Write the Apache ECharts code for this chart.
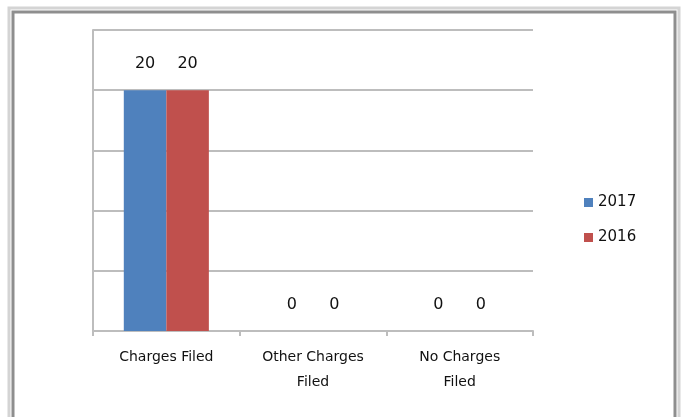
<!DOCTYPE html>
<html>
<head>
<meta charset="utf-8">
<script src="https://cdn.jsdelivr.net/npm/echarts@6/dist/echarts.min.js"></script>
<style>
  html, body { margin: 0; padding: 0; background: #fff; }
  #main { width: 683px; height: 417px; }
</style>
</head>
<body>
<div id="main"></div>
<script>
// chart data
var categories = ['Charges Filed', 'Other Charges\nFiled', 'No Charges\nFiled'];
var values2017 = [20, 0, 0];
var values2016 = [20, 0, 0];
var seriesNames = ['2017', '2016'];

var chart = echarts.init(document.getElementById('main'));

var labelStyle = {
  show: true,
  position: 'top',
  distance: 18,
  color: '#111',
  fontFamily: 'DejaVu Sans',
  fontSize: 16
};

var option = {
  backgroundColor: '#fff',
  animation: false,
  graphic: [
    {
      type: 'rect',
      shape: { x: 9, y: 8, width: 670, height: 430 },
      style: { fill: 'none', stroke: '#d4d4d4', lineWidth: 3 }
    },
    {
      type: 'rect',
      shape: { x: 13, y: 12, width: 662, height: 430 },
      style: { fill: 'none', stroke: '#8e8e8e', lineWidth: 3 }
    }
  ],
  grid: {
    left: 93,
    right: 150,
    top: 30,
    bottom: 86
  },
  legend: {
    orient: 'vertical',
    left: 579,
    top: 190,
    itemWidth: 9,
    itemHeight: 9,
    itemGap: 20,
    icon: 'rect',
    textStyle: { fontFamily: 'DejaVu Sans', fontSize: 15, color: '#111' },
    data: seriesNames
  },
  xAxis: {
    type: 'category',
    data: categories,
    axisLine: { lineStyle: { color: '#bdbdbd', width: 2 } },
    axisTick: { show: true, length: 5, lineStyle: { color: '#bdbdbd', width: 2 } },
    axisLabel: {
      color: '#111',
      fontFamily: 'DejaVu Sans',
      fontSize: 14,
      lineHeight: 25,
      margin: 14
    }
  },
  yAxis: {
    type: 'value',
    min: 0,
    max: 25,
    interval: 5,
    axisLine: { show: true, lineStyle: { color: '#bdbdbd', width: 2 } },
    axisTick: { show: false },
    axisLabel: { show: false },
    splitLine: { lineStyle: { color: '#bdbdbd', width: 2 } }
  },
  series: [
    {
      name: seriesNames[0],
      type: 'bar',
      data: values2017,
      barGap: '0%',
      barCategoryGap: '42%',
      itemStyle: { color: '#4f81bd' },
      label: labelStyle
    },
    {
      name: seriesNames[1],
      type: 'bar',
      data: values2016,
      itemStyle: { color: '#c0504d' },
      label: labelStyle
    }
  ]
};

chart.setOption(option);
</script>
</body>
</html>
